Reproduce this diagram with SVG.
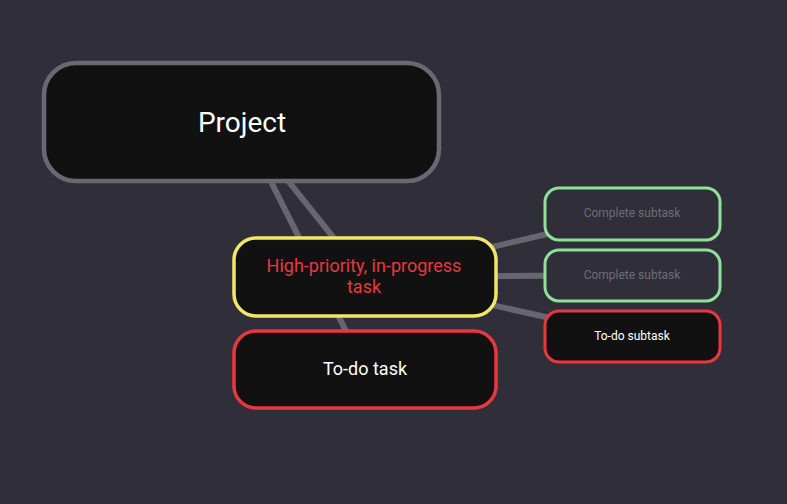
<svg xmlns="http://www.w3.org/2000/svg" width="787" height="504" viewBox="0 0 787 504">
  <style>
    .edge { stroke: #67656e; stroke-width: 6; stroke-linecap: butt; fill: none; }
    .box { fill: #111111; }
    .label { font-family: Roboto, "Liberation Sans", sans-serif; text-anchor: middle; }
  </style>
  <rect width="787" height="504" fill="#302e38"/>

  <g id="connectors">
    <line class="edge" x1="241" y1="122" x2="365" y2="369"/>
    <line class="edge" x1="241" y1="122" x2="365" y2="277"/>
    <line class="edge" x1="365" y1="277" x2="632" y2="214"/>
    <line class="edge" x1="365" y1="277" x2="632" y2="275"/>
    <line class="edge" x1="365" y1="277" x2="632" y2="336"/>
  </g>

  <g id="project">
    <rect class="box" x="44" y="63" width="395" height="118" rx="32" stroke="#6b6873" stroke-width="4.5"/>
    <text class="label" x="242" y="132" font-size="28" fill="#ffffff">Project</text>
  </g>

  <g id="high-priority-task">
    <rect class="box" x="234" y="238" width="262" height="78" rx="22" stroke="#f0e66a" stroke-width="3.5"/>
    <text class="label" x="364" y="272" font-size="18" fill="#e8383f">High-priority, in-progress</text>
    <text class="label" x="364" y="293" font-size="18" fill="#e8383f">task</text>
  </g>

  <g id="todo-task">
    <rect class="box" x="234" y="331" width="262" height="77" rx="22" stroke="#e8383f" stroke-width="3.5"/>
    <text class="label" x="365" y="375" font-size="18" fill="#ffffff">To-do task</text>
  </g>

  <g id="complete-subtask-1">
    <rect x="545" y="188" width="175" height="52" rx="14" fill="#302e38" stroke="#8ee09a" stroke-width="3"/>
    <text class="label" x="632" y="217" font-size="12" fill="#6f6c78">Complete subtask</text>
  </g>

  <g id="complete-subtask-2">
    <rect x="545" y="250" width="175" height="51" rx="14" fill="#302e38" stroke="#8ee09a" stroke-width="3"/>
    <text class="label" x="632" y="279" font-size="12" fill="#6f6c78">Complete subtask</text>
  </g>

  <g id="todo-subtask">
    <rect class="box" x="545" y="311" width="175" height="51" rx="14" stroke="#e8383f" stroke-width="3"/>
    <text class="label" x="632" y="340" font-size="12" fill="#ffffff">To-do subtask</text>
  </g>
</svg>
